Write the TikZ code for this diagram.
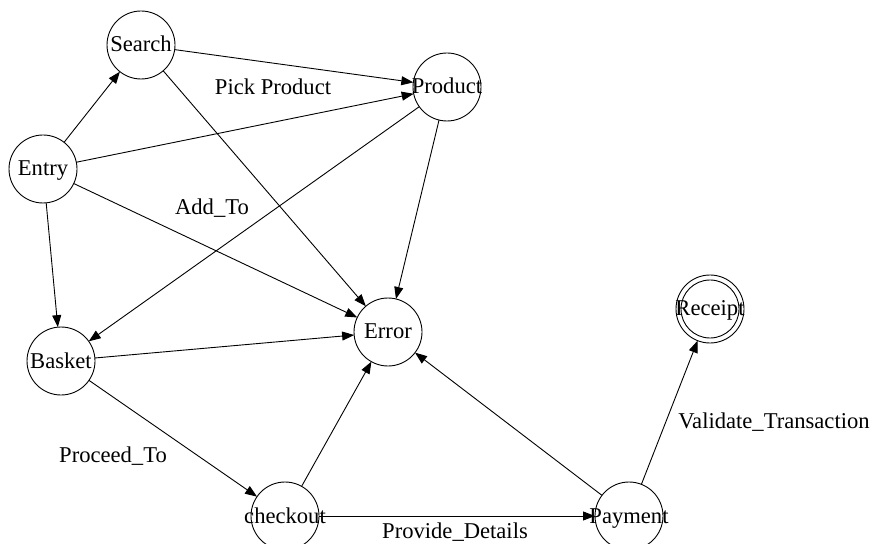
\documentclass[tikz,border=0pt]{standalone}
\usepackage{fontspec}
\setmainfont{Liberation Serif}
\usetikzlibrary{arrows.meta}

% state name set at the circle's centre without widening the circle
\newcommand\statename[1]{\makebox[0pt]{\smash{\raisebox{-7bp}{#1}}}}

\tikzset{
  state/.style={draw, circle, line width=0.9bp, minimum size=68bp, inner sep=0pt, outer sep=0pt},
  trans/.style={line width=0.9bp, -{Triangle[length=12bp,width=9bp]}},
  edgelabel/.style={anchor=base, inner sep=0pt},
}

\begin{document}
\begin{tikzpicture}[x=1bp, y=-1bp, font=\fontsize{22.6bp}{26bp}\selectfont]
  \useasboundingbox (0,0) rectangle (873,544);

  % states
  \node[state] (search)   at (141,45)  {\statename{Search}};
  \node[state] (product)  at (447,87)  {\statename{Product}};
  \node[state] (entry)    at (43,169)  {\statename{Entry}};
  \node[state] (basket)   at (61,361)  {\statename{Basket}};
  \node[state] (error)    at (388,332) {\statename{Error}};
  \node[state] (checkout) at (285,516) {\statename{checkout}};
  \node[state] (payment)  at (629,516) {\statename{Payment}};
  \node[state] (receipt)  at (710,309) {\statename{Receipt}};
  % final state: inner ring
  \draw[line width=0.9bp] (receipt.center) circle[radius=29bp];

  % transitions
  \draw[trans] (entry) -- (search);
  \draw[trans] (search) -- (product);
  \draw[trans] (entry) -- (product);
  \draw[trans] (entry) -- (basket);
  \draw[trans] (entry) -- (error);
  \draw[trans] (search) -- (error);
  \draw[trans] (product) -- (error);
  \draw[trans] (product) -- (basket);
  \draw[trans] (basket) -- (error);
  \draw[trans] (basket) -- (checkout);
  \draw[trans] (checkout) -- (error);
  \draw[trans] (checkout) -- (payment);
  \draw[trans] (payment) -- (error);
  \draw[trans] (payment) -- (receipt);

  % transition labels
  \node[edgelabel] (lpick)     at (273,95)  {Pick Product};
  \node[edgelabel] (ladd)      at (212,215) {Add\_To};
  \node[edgelabel] (lproceed)  at (113,462) {Proceed\_To};
  \node[edgelabel] (lprovide)  at (455,538) {Provide\_Details};
  \node[edgelabel] (lvalidate) at (774,428) {Validate\_Transaction};
\end{tikzpicture}
\end{document}
